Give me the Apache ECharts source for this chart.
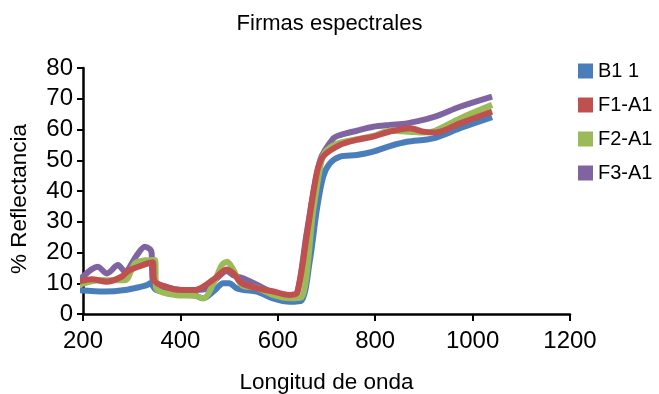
<!DOCTYPE html>
<html>
<head>
<meta charset="utf-8">
<script src="https://cdn.jsdelivr.net/npm/echarts@6/dist/echarts.min.js"></script>
<style>
html,body{margin:0;padding:0;background:#fff;}
#chart{width:659px;height:394px;}
</style>
</head>
<body>
<div id="chart"></div>
<script>
var seriesNames = ["B1 1", "F1-A1", "F2-A1", "F3-A1"];
var xTicks = [200, 400, 600, 800, 1000, 1200];
var yTicks = [0, 10, 20, 30, 40, 50, 60, 70, 80];

var b1Wl  = [190,245,286,320,331,338,350,400,430,447,471,488,500,515,530,557,590,625,648,666,680,693,707,728,762,796,830,865,919,974,1040];
var b1Val = [7.8,7.3,7.8,8.9,9.4,10,7.8,6.5,6,5.1,7.8,10,10,8.4,7.8,7.3,5.1,4,4.3,17.6,33.8,44.6,49,51.2,51.7,52.8,54.6,56,57.1,60.4,64];

var f1Wl  = [190,218,249,279,296,343,346,368,403,430,447,471,495,509,526,557,591,625,640,660,680,693,728,762,796,830,871,899,923,974,1040];
var f1Val = [10.5,11.3,10.5,12.1,14.3,16.8,11,8.9,7.8,7.8,8.9,11.6,14.5,13.2,10,8.4,7.3,6.2,7,26,45.8,51.2,55,56.6,57.7,59.3,60.4,59.3,59,62,65.8];

var f2Wl  = [190,235,286,307,330,348,350,389,430,447,471,485,496,509,526,557,590,625,648,673,690,700,728,796,830,871,899,923,974,1040];
var f2Val = [9.4,11,11,16.5,17.5,17.6,8.5,6.2,5.9,5.1,11,15.9,17,14.3,9.4,8.5,6.2,5.1,5.3,34,50,53.2,55.7,57.9,59.6,59.3,59,59.6,63.6,68];

var f3Wl  = [190,230,249,272,286,310,327,338,341,343,368,403,447,471,495,510,530,557,590,625,640,660,687,714,728,762,796,830,865,919,974,1040];
var f3Val = [10.5,15.4,13.2,15.9,13.8,19,21.9,21,19.7,11,9,7.8,8,11,14,12.5,11.5,9.5,7,6,7,27,50,57.1,58.2,59.6,60.9,61.5,62,64,67.4,70.7];

var colors = ["#4A7EBB", "#C0504D", "#9BBB59", "#8064A2"];
var wls = [b1Wl, f1Wl, f2Wl, f3Wl];
var vals = [b1Val, f1Val, f2Val, f3Val];
var zs = [1, 4, 3, 2];

function pairs(w, v) { return w.map(function (x, i) { return [x, v[i]]; }); }

var font = "Liberation Sans, Arial, sans-serif";
var series = seriesNames.map(function (n, i) {
  return {
    name: n, type: "line", data: pairs(wls[i], vals[i]),
    smooth: 0.3, showSymbol: false, symbol: "none", clip: false, z: zs[i],
    itemStyle: { color: colors[i] },
    lineStyle: { color: colors[i], width: 6 }
  };
});

var chart = echarts.init(document.getElementById("chart"), null, { renderer: "canvas" });
chart.setOption({
  animation: false,
  backgroundColor: "#fff",
  title: {
    text: "Firmas espectrales", left: "center", top: 8,
    textStyle: { fontFamily: font, fontSize: 22, fontWeight: "normal", color: "#000" }
  },
  legend: {
    orient: "vertical", left: 578, top: 61, itemWidth: 15, itemHeight: 15, itemGap: 14,
    icon: "rect", padding: 0,
    data: seriesNames,
    textStyle: { fontFamily: font, fontSize: 20, color: "#000", lineHeight: 20 }
  },
  grid: { left: 83, right: 89, top: 68, bottom: 80, containLabel: false, outerBoundsMode: "none" },
  xAxis: {
    type: "value", min: xTicks[0], max: xTicks[xTicks.length - 1], interval: 200,
    name: "Longitud de onda", nameLocation: "middle", nameGap: 57,
    nameTextStyle: { fontFamily: font, fontSize: 22.5, color: "#000" },
    axisLine: { show: true, lineStyle: { color: "#000", width: 2.5 } },
    axisTick: { show: true, length: 7, lineStyle: { color: "#000", width: 2 } },
    axisLabel: { margin: 15, fontFamily: font, fontSize: 24, color: "#000",
      formatter: function (v) { return String(v); } },
    splitLine: { show: false }
  },
  yAxis: {
    type: "value", min: yTicks[0], max: yTicks[yTicks.length - 1], interval: 10,
    name: "% Reflectancia", nameLocation: "middle", nameGap: 52, nameRotate: 90,
    nameTextStyle: { fontFamily: font, fontSize: 22.5, color: "#000", padding: [0, 16, 0, 0] },
    axisLine: { show: true, lineStyle: { color: "#000", width: 2.5 } },
    axisTick: { show: true, length: 6, lineStyle: { color: "#000", width: 2 } },
    axisLabel: { margin: 10, fontFamily: font, fontSize: 24, color: "#000",
      formatter: function (v) { return String(v); } },
    splitLine: { show: false }
  },
  series: series
});
</script>
</body>
</html>
